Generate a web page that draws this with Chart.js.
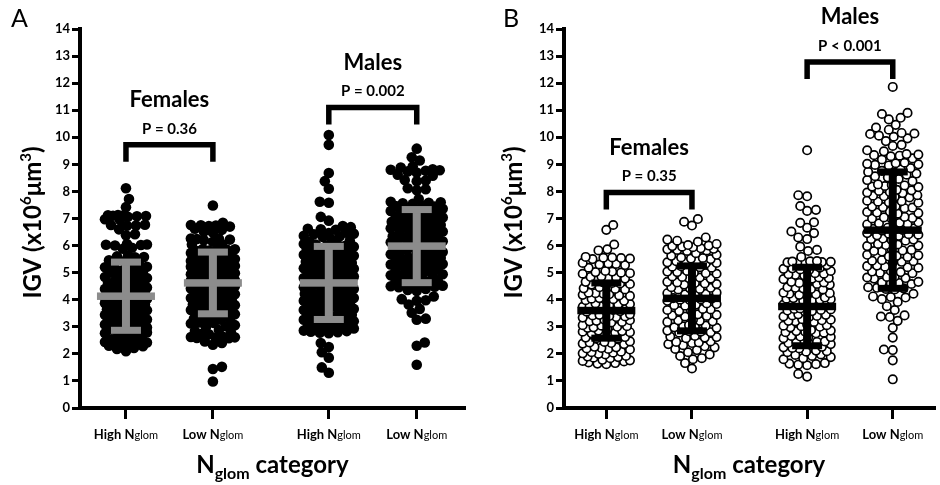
<!DOCTYPE html>
<html>
<head>
<meta charset="utf-8">
<script src="https://cdn.jsdelivr.net/npm/chart.js@4.4.1/dist/chart.umd.min.js"></script>
<style>
  html, body { margin: 0; padding: 0; background: #fff; }
  #wrap { position: relative; width: 940px; height: 485px; }
  canvas { position: absolute; top: 0; }
  #chartA { left: 0; }
  #chartB { left: 470px; }
</style>
</head>
<body>
<div id="wrap">
  <canvas id="chartA" width="470" height="485"></canvas>
  <canvas id="chartB" width="470" height="485"></canvas>
</div>
<script>
// Category labels and annotations
const groupNames = ['Females', 'Males'];
const catLabels = ['High', 'Low'];
const pValuesA = ['P = 0.36', 'P = 0.002'];
const pValuesB = ['P = 0.35', 'P < 0.001'];
const yTicks = [0, 14];

// Panel A - IGV values (x10^6 um^3)
const femHighA = [
  8.12, 7.72, 7.42,
  7.12, 7.10, 7.08, 7.13, 7.06, 7.11, 7.09, 6.97, 6.94,
  6.76, 6.74, 6.73, 6.77, 6.60, 6.42, 6.38,
  6.04, 6.02, 6.06, 6.00, 6.03, 5.92, 5.88,
  5.62, 5.58, 5.60, 5.57, 5.46, 5.42,
  5.26, 5.24, 5.22, 5.27, 5.20, 5.06, 5.04, 5.02, 5.07, 5.00,
  4.86, 4.84, 4.82, 4.87, 4.80, 4.85, 4.66, 4.64, 4.62, 4.67, 4.60, 4.65,
  4.46, 4.44, 4.42, 4.47, 4.40, 4.45, 4.43, 4.26, 4.24, 4.22, 4.27, 4.20, 4.25, 4.23, 4.21,
  4.06, 4.04, 4.02, 4.07, 4.00, 4.05, 4.03, 4.01, 3.86, 3.84, 3.82, 3.87, 3.80, 3.85, 3.83, 3.81,
  3.66, 3.64, 3.62, 3.67, 3.60, 3.65, 3.63, 3.61, 3.46, 3.44, 3.42, 3.47, 3.40, 3.45, 3.43, 3.41,
  3.30, 3.28, 3.26, 3.31, 3.25, 3.29, 3.27, 3.10, 3.08, 3.06, 3.11, 3.05, 3.09, 3.07,
  2.96, 2.94, 2.92, 2.97, 2.90, 2.95, 2.93, 2.80, 2.78, 2.82, 2.76, 2.79,
  2.56, 2.54, 2.52, 2.57, 2.50, 2.55, 2.42, 2.40, 2.38, 2.44, 2.36, 2.30, 2.28, 2.32, 2.22, 2.18, 2.10
];
const femLowA = [
  7.48, 6.84, 6.76, 6.74, 6.72, 6.75, 6.70, 6.62, 6.58, 6.52, 6.48,
  6.26, 6.24, 6.22, 6.25, 6.20, 6.14, 6.06, 6.04,
  5.86, 5.84, 5.82, 5.87, 5.80, 5.85, 5.72, 5.70, 5.68, 5.73, 5.66, 5.56, 5.54, 5.52, 5.57, 5.50, 5.55,
  5.42, 5.40, 5.38, 5.43, 5.36, 5.41, 5.26, 5.24, 5.22, 5.27, 5.20, 5.25, 5.12, 5.10, 5.08, 5.13, 5.06,
  4.98, 4.96, 4.94, 4.99, 4.92, 4.97, 4.86, 4.84, 4.82, 4.87, 4.80, 4.72, 4.70, 4.68, 4.73, 4.66, 4.71,
  4.56, 4.54, 4.52, 4.57, 4.50, 4.42, 4.40, 4.38, 4.43, 4.36, 4.41, 4.26, 4.24, 4.22, 4.27, 4.20,
  4.12, 4.10, 4.08, 4.13, 4.06, 3.96, 3.94, 3.92, 3.97, 3.90, 3.95, 3.82, 3.80, 3.78, 3.83, 3.76,
  3.66, 3.64, 3.62, 3.67, 3.60, 3.52, 3.50, 3.48, 3.53, 3.46, 3.32, 3.30, 3.28, 3.33, 3.26, 3.29,
  3.16, 3.14, 3.12, 3.06, 3.02, 2.98, 2.88, 2.84, 2.80, 2.74, 2.72, 2.62, 2.60, 2.58, 2.63, 2.61, 2.59,
  2.46, 2.40, 2.34, 1.52, 1.44, 0.98
];
const maleHighA = [
  10.08, 9.72, 8.68, 8.38, 8.10, 7.62, 7.58, 7.06, 6.92, 6.72, 6.68, 6.62, 6.60, 6.58,
  6.48, 6.46, 6.44, 6.42, 6.36, 6.34, 6.32, 6.22, 6.18, 6.14,
  6.06, 6.04, 6.02, 6.00, 5.98, 5.96, 5.86, 5.84, 5.82, 5.80, 5.78, 5.76, 5.74,
  5.66, 5.64, 5.62, 5.60, 5.58, 5.56, 5.46, 5.44, 5.42, 5.40, 5.38, 5.36,
  5.26, 5.24, 5.22, 5.20, 5.18, 5.16, 5.14, 5.06, 5.04, 5.02, 5.00, 4.98, 4.96,
  4.86, 4.84, 4.82, 4.80, 4.78, 4.76, 4.74, 4.66, 4.64, 4.62, 4.60, 4.58, 4.56,
  4.46, 4.44, 4.42, 4.40, 4.38, 4.36, 4.34, 4.26, 4.24, 4.22, 4.20, 4.18, 4.16,
  4.06, 4.04, 4.02, 4.00, 3.98, 3.96, 3.94, 3.86, 3.84, 3.82, 3.80, 3.78, 3.76,
  3.66, 3.64, 3.62, 3.60, 3.58, 3.56, 3.54, 3.46, 3.44, 3.42, 3.40, 3.38, 3.36,
  3.26, 3.24, 3.22, 3.20, 3.18, 3.16, 3.06, 3.04, 3.02, 3.00, 2.98, 2.96, 2.94,
  2.86, 2.84, 2.82, 2.80, 2.78, 2.76, 2.40, 2.25, 2.06, 1.86, 1.50, 1.30
];
const maleLowA = [
  9.58, 9.26, 9.14, 8.92, 8.88, 8.82, 8.80, 8.78, 8.76, 8.74, 8.70, 8.62, 8.58, 8.42, 8.40, 8.38,
  8.12, 8.08, 8.04, 7.72, 7.62, 7.60, 7.58, 7.56, 7.54, 7.48, 7.46, 7.44,
  7.36, 7.34, 7.32, 7.30, 7.28, 7.26, 7.16, 7.14, 7.12, 7.10, 7.08, 7.06, 7.04,
  6.96, 6.94, 6.92, 6.90, 6.88, 6.86, 6.76, 6.74, 6.72, 6.70, 6.68, 6.66, 6.64,
  6.56, 6.54, 6.52, 6.50, 6.48, 6.46, 6.36, 6.34, 6.32, 6.30, 6.28, 6.26, 6.24,
  6.16, 6.14, 6.12, 6.10, 6.08, 6.06, 5.96, 5.94, 5.92, 5.90, 5.88, 5.86, 5.84,
  5.76, 5.74, 5.72, 5.70, 5.68, 5.66, 5.56, 5.54, 5.52, 5.50, 5.48, 5.46, 5.44,
  5.36, 5.34, 5.32, 5.30, 5.28, 5.26, 5.16, 5.14, 5.12, 5.10, 5.08, 5.06,
  4.96, 4.94, 4.92, 4.90, 4.88, 4.86, 4.76, 4.74, 4.72, 4.70, 4.68, 4.66,
  4.56, 4.54, 4.52, 4.50, 4.48, 4.46, 4.40, 4.36, 4.32, 4.12, 4.02, 3.98, 3.96,
  3.82, 3.66, 3.52, 3.30, 3.26, 2.42, 2.30, 1.60
];
const meansA = [4.13, 4.62, 4.62, 5.98];
const sdsA = [1.26, 1.14, 1.35, 1.35];

// Panel B
const femHighB = [
  6.76, 6.58, 6.04, 5.86, 5.82, 5.56, 5.54, 5.52, 5.58, 5.50, 5.55,
  5.36, 5.34, 5.32, 5.30, 5.28, 5.18, 5.06, 5.04, 5.02, 5.00, 4.98, 4.96,
  4.86, 4.84, 4.82, 4.80, 4.78, 4.72, 4.66, 4.64, 4.62, 4.60, 4.58, 4.56,
  4.46, 4.44, 4.42, 4.40, 4.38, 4.26, 4.24, 4.22, 4.20, 4.18, 4.16, 4.14,
  4.06, 4.04, 4.02, 4.00, 3.98, 3.96, 3.86, 3.84, 3.82, 3.80, 3.78, 3.76, 3.74,
  3.66, 3.64, 3.62, 3.60, 3.58, 3.56, 3.46, 3.44, 3.42, 3.40, 3.38, 3.36, 3.34,
  3.26, 3.24, 3.22, 3.20, 3.18, 3.16, 3.06, 3.04, 3.02, 3.00, 2.98, 2.96, 2.94,
  2.86, 2.84, 2.82, 2.80, 2.78, 2.76, 2.66, 2.64, 2.62, 2.60, 2.58, 2.56,
  2.46, 2.44, 2.42, 2.40, 2.38, 2.36, 2.26, 2.24, 2.22, 2.20, 2.18, 2.16,
  2.08, 2.06, 2.04, 2.02, 2.00, 1.98, 1.92, 1.90, 1.88, 1.86, 1.84, 1.78, 1.76, 1.74, 1.72, 1.68, 1.66, 1.64, 1.62
];
const femLowB = [
  6.98, 6.88, 6.74, 6.30, 6.22, 6.18, 6.14, 6.06, 6.02, 6.00, 5.98, 5.96, 5.94,
  5.90, 5.88, 5.86, 5.84, 5.82, 5.80, 5.72, 5.66, 5.62, 5.56, 5.54, 5.52, 5.50, 5.46,
  5.42, 5.40, 5.38, 5.36, 5.34, 5.26, 5.24, 5.22, 5.20, 5.18, 5.06, 5.04, 5.02, 5.00, 4.98, 4.96,
  4.86, 4.84, 4.82, 4.80, 4.78, 4.66, 4.64, 4.62, 4.60, 4.58, 4.56, 4.46, 4.44, 4.42, 4.40, 4.38,
  4.26, 4.24, 4.22, 4.20, 4.18, 4.06, 4.04, 4.02, 4.00, 3.98, 3.96, 3.86, 3.84, 3.82, 3.80, 3.78,
  3.66, 3.64, 3.62, 3.60, 3.58, 3.46, 3.44, 3.42, 3.40, 3.38, 3.26, 3.24, 3.22, 3.20, 3.18,
  3.06, 3.04, 3.02, 3.00, 2.98, 2.96, 2.86, 2.84, 2.82, 2.80, 2.78, 2.66, 2.64, 2.62, 2.60, 2.58,
  2.46, 2.44, 2.42, 2.40, 2.36, 2.32, 2.28, 2.24, 2.18, 2.14, 2.06, 1.98, 1.92, 1.84, 1.80, 1.66, 1.46
];
const maleHighB = [
  9.52, 7.86, 7.82, 7.46, 7.32, 7.28, 6.86, 6.84, 6.66, 6.52, 6.46, 6.30, 6.24, 5.96, 5.84, 5.80, 5.58,
  5.42, 5.40, 5.38, 5.41, 5.39, 5.37, 5.43, 5.36, 5.30, 5.28,
  5.18, 5.16, 5.14, 5.12, 5.10, 5.06, 4.98, 4.96, 4.94, 4.92, 4.90,
  4.82, 4.80, 4.78, 4.76, 4.66, 4.64, 4.62, 4.60, 4.58, 4.56, 4.46, 4.44, 4.42, 4.40, 4.38,
  4.26, 4.24, 4.22, 4.20, 4.18, 4.16, 4.08, 4.06, 4.04, 4.02, 4.00, 3.98, 3.96,
  3.88, 3.86, 3.84, 3.82, 3.80, 3.78, 3.68, 3.66, 3.64, 3.62, 3.60, 3.58, 3.56,
  3.46, 3.44, 3.42, 3.40, 3.38, 3.36, 3.28, 3.26, 3.24, 3.22, 3.20, 3.18,
  3.08, 3.06, 3.04, 3.02, 3.00, 2.98, 2.88, 2.86, 2.84, 2.82, 2.80, 2.78, 2.76,
  2.66, 2.64, 2.62, 2.60, 2.58, 2.46, 2.44, 2.42, 2.40, 2.38, 2.36, 2.34,
  2.26, 2.24, 2.22, 2.20, 2.12, 2.10, 2.08, 2.06, 1.98, 1.96, 1.92, 1.88, 1.84, 1.80,
  1.66, 1.64, 1.62, 1.60, 1.58, 1.26, 1.16
];
const maleLowB = [
  11.86, 10.90, 10.86, 10.72, 10.66, 10.46, 10.36, 10.28, 10.16, 10.14, 10.12, 10.06, 10.02, 9.96, 9.86, 9.72, 9.68,
  9.52, 9.48, 9.38, 9.36, 9.34, 9.32, 9.30, 9.22, 9.18, 9.06, 9.04, 9.02, 9.00, 8.98, 8.96,
  8.86, 8.82, 8.76, 8.72, 8.70, 8.66, 8.62, 8.56, 8.52, 8.46, 8.42, 8.38,
  8.26, 8.24, 8.22, 8.20, 8.18, 8.16, 8.06, 8.04, 8.02, 7.98, 7.96, 7.94,
  7.86, 7.84, 7.82, 7.80, 7.78, 7.66, 7.64, 7.62, 7.60, 7.58, 7.46, 7.44, 7.42, 7.40, 7.38,
  7.26, 7.24, 7.22, 7.20, 7.18, 7.06, 7.04, 7.02, 7.00, 6.98, 6.86, 6.84, 6.82, 6.80, 6.78,
  6.66, 6.64, 6.62, 6.60, 6.58, 6.56, 6.46, 6.44, 6.42, 6.40, 6.38, 6.36,
  6.26, 6.24, 6.22, 6.20, 6.18, 6.06, 6.04, 6.02, 6.00, 5.98, 5.86, 5.84, 5.82, 5.80, 5.78,
  5.66, 5.64, 5.62, 5.60, 5.58, 5.46, 5.44, 5.42, 5.40, 5.38, 5.26, 5.24, 5.22, 5.20, 5.18,
  5.06, 5.04, 5.02, 5.00, 4.98, 4.86, 4.84, 4.82, 4.80, 4.78, 4.66, 4.64, 4.62, 4.60, 4.58,
  4.46, 4.44, 4.42, 4.40, 4.38, 4.22, 4.12, 4.10, 4.08, 4.02, 3.92, 3.76, 3.62, 3.42, 3.38, 3.36,
  3.22, 2.96, 2.60, 2.16, 2.14, 1.76, 1.06
];
const meansB = [3.60, 4.05, 3.75, 6.57];
const sdsB = [1.02, 1.20, 1.45, 2.15];

// bracket heights (y value of the bracket bar)
const bracketA = [9.72, 11.10];
const bracketB = [7.96, 12.78];

const FONT = 'Lato, "Open Sans", "DejaVu Sans", sans-serif';
const Y_PX = 379 / 14; // pixels per y unit in the plot area

// beeswarm layout: x offset (in px) for each value
function swarm(values, center, minDist, maxHalf) {
  const sorted = values.slice().sort((a, b) => a - b);
  const placed = [];
  sorted.forEach((v, idx) => {
    const y = v * Y_PX;
    const sign = idx % 2 === 0 ? 1 : -1;
    let best = 0, bestGap = -1, found = false;
    for (let k = 0; k <= maxHalf && !found; k++) {
      const cands = k === 0 ? [0] : [k * sign, -k * sign];
      for (const dx of cands) {
        let gap = Infinity;
        for (const p of placed) {
          const dy = p.y - y;
          if (Math.abs(dy) >= minDist) continue;
          gap = Math.min(gap, Math.hypot(p.x - dx, dy));
        }
        if (gap >= minDist) { best = dx; found = true; break; }
        if (gap > bestGap) { bestGap = gap; best = dx; }
      }
    }
    placed.push({ x: best, y });
  });
  return placed.map(p => ({ x: center + p.x, y: p.y / Y_PX }));
}

function drawParts(ctx, parts, x, y) {
  // parts: [text, font, dy]
  let w = 0;
  parts.forEach(p => { ctx.font = p[1]; w += ctx.measureText(p[0]).width; });
  let cx = x - w / 2;
  parts.forEach(p => {
    ctx.font = p[1];
    ctx.fillText(p[0], cx, y + (p[2] || 0));
    cx += ctx.measureText(p[0]).width;
  });
}

const annotPlugin = {
  id: 'annot',
  afterDatasetsDraw(chart, args, o) {
    const ctx = chart.ctx;
    const xs = chart.scales.x, ys = chart.scales.y;
    const area = chart.chartArea;
    ctx.save();

    // mean +/- SD bars
    ctx.fillStyle = o.barColor;
    o.means.forEach((m, i) => {
      const cx = xs.getPixelForValue(o.pos[i]);
      const yM = ys.getPixelForValue(m);
      const yHi = ys.getPixelForValue(m + o.sds[i]);
      const yLo = ys.getPixelForValue(m - o.sds[i]);
      ctx.fillRect(cx - 4, yHi, 8, yLo - yHi);
      ctx.fillRect(cx - 15, yHi - 3.5, 30, 7);
      ctx.fillRect(cx - 15, yLo - 3.5, 30, 7);
      ctx.fillRect(cx - 29, yM - 3.75, 58, 7.5);
    });

    // brackets, p-values, group names
    ctx.fillStyle = '#000';
    ctx.strokeStyle = '#000';
    ctx.textAlign = 'left';
    ctx.textBaseline = 'middle';
    o.brackets.forEach((b, k) => {
      const x1 = xs.getPixelForValue(o.pos[2 * k]);
      const x2 = xs.getPixelForValue(o.pos[2 * k + 1]);
      const yT = ys.getPixelForValue(b);
      ctx.lineWidth = 5.5;
      ctx.lineJoin = 'miter';
      ctx.beginPath();
      ctx.moveTo(x1, yT + 17);
      ctx.lineTo(x1, yT);
      ctx.lineTo(x2, yT);
      ctx.lineTo(x2, yT + 17);
      ctx.stroke();
      const mid = (x1 + x2) / 2;
      drawParts(ctx, [[o.pValues[k], 'bold 15px ' + FONT]], mid, yT - 16);
      drawParts(ctx, [[groupNames[k], 'bold 22px ' + FONT]], mid, yT - 45);
    });

    // category labels with subscript
    ctx.textBaseline = 'alphabetic';
    o.pos.forEach((p, i) => {
      const cx = xs.getPixelForValue(p);
      drawParts(ctx, [
        [catLabels[i % 2] + ' N', 'bold 13px ' + FONT],
        ['glom', '11px ' + FONT]
      ], cx, area.bottom + 31);
    });

    // x axis title
    drawParts(ctx, [
      ['N', 'bold 24px ' + FONT],
      ['glom', 'bold 16px ' + FONT, 6],
      [' category', 'bold 24px ' + FONT]
    ], (area.left + area.right) / 2, area.bottom + 65);

    // y axis title (rotated)
    ctx.save();
    ctx.translate(o.yTitleX, (area.top + area.bottom) / 2 + 4);
    ctx.rotate(-Math.PI / 2);
    drawParts(ctx, [
      ['IGV (x10', 'bold 24px ' + FONT],
      ['6', 'bold 15px ' + FONT, -10],
      ['\u03bcm', 'bold 24px ' + FONT],
      ['3', 'bold 15px ' + FONT, -10],
      [')', 'bold 24px ' + FONT]
    ], 0, 0);
    ctx.restore();

    // panel letter
    ctx.font = '25px ' + FONT;
    ctx.textAlign = 'left';
    ctx.fillText(o.letter, o.letterX, 27);
    ctx.restore();
  }
};

function makePanel(id, cfg) {
  const datasets = cfg.groups.map((vals, i) => ({
    data: swarm(vals, cfg.pos[i], 8.5, cfg.maxHalf[i]),
    pointRadius: cfg.open ? 4.2 : 5.3,
    pointBackgroundColor: cfg.open ? '#fff' : '#000',
    pointBorderColor: '#000',
    pointBorderWidth: cfg.open ? 1.7 : 0,
    showLine: false
  }));
  return new Chart(document.getElementById(id), {
    type: 'scatter',
    data: { datasets },
    plugins: [annotPlugin],
    options: {
      responsive: false,
      animation: false,
      layout: { padding: { left: 0, top: 29, right: cfg.padRight, bottom: 77 } },
      plugins: {
        legend: { display: false },
        tooltip: { enabled: false },
        annot: {
          pos: cfg.pos,
          means: cfg.means,
          sds: cfg.sds,
          barColor: cfg.barColor,
          brackets: cfg.brackets,
          pValues: cfg.pValues,
          yTitleX: cfg.yTitleX,
          letter: cfg.letter,
          letterX: cfg.letterX
        }
      },
      scales: {
        x: {
          type: 'linear',
          min: 0,
          max: cfg.xMax,
          afterBuildTicks: s => { s.ticks = cfg.pos.map(v => ({ value: v })); },
          afterFit: s => { s.height = 0; },
          ticks: { display: false },
          grid: { drawOnChartArea: false, drawTicks: true, tickLength: 11, lineWidth: 3, color: '#000' },
          border: { display: true, width: 4, color: '#000' }
        },
        y: {
          min: yTicks[0],
          max: yTicks[1],
          afterFit: s => { s.width = cfg.yWidth; },
          ticks: { stepSize: 1, color: '#000', padding: 2, font: { family: FONT, weight: 'bold', size: 13 } },
          grid: { drawOnChartArea: false, drawTicks: true, tickLength: 8, lineWidth: 3, color: '#000' },
          border: { display: true, width: 4, color: '#000' }
        }
      }
    }
  });
}

makePanel('chartA', {
  groups: [femHighA, femLowA, maleHighA, maleLowA],
  pos: [46, 133, 249, 337],
  maxHalf: [21, 22, 25, 26],
  xMax: 385,
  yWidth: 80,
  padRight: 5,
  open: false,
  means: meansA,
  sds: sdsA,
  barColor: '#8c8c8c',
  brackets: bracketA,
  pValues: pValuesA,
  yTitleX: 41,
  letter: 'A',
  letterX: 11
});

makePanel('chartB', {
  groups: [femHighB, femLowB, maleHighB, maleLowB],
  pos: [43, 130, 247, 334],
  maxHalf: [24, 25, 24, 26],
  xMax: 376,
  yWidth: 94,
  padRight: 0,
  open: true,
  means: meansB,
  sds: sdsB,
  barColor: '#000',
  brackets: bracketB,
  pValues: pValuesB,
  yTitleX: 52,
  letter: 'B',
  letterX: 33
});
</script>
</body>
</html>
